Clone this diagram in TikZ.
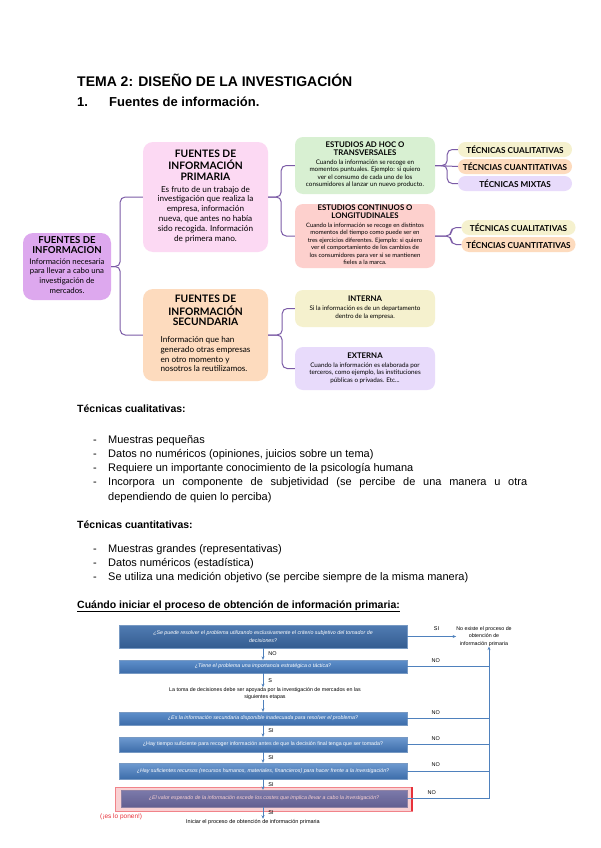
\documentclass[tikz,border=0pt]{standalone}
\usepackage{fontspec}
\setmainfont{Liberation Sans}
\newfontfamily\mapfont{Lato}
\usetikzlibrary{positioning,arrows.meta,calc}
\definecolor{mapline}{HTML}{7B5BA6}
\definecolor{rootfill}{HTML}{DDA8EE}
\definecolor{primfill}{HTML}{FCD9F3}
\definecolor{secfill}{HTML}{FDDBBE}
\definecolor{adhocfill}{HTML}{D8F0D2}
\definecolor{contfill}{HTML}{FDD0CD}
\definecolor{intfill}{HTML}{F5F1CE}
\definecolor{extfill}{HTML}{E8DBFB}
\definecolor{flowtop}{HTML}{5E8FCB}
\definecolor{flowbot}{HTML}{3D6DAA}
\definecolor{flowline}{HTML}{4F81BD}
\definecolor{hlred}{HTML}{E8313A}
\newcommand\cardhead{\fontsize{10.3}{9.4}\selectfont\bfseries}
\newcommand\cardbody{\fontsize{8.2}{9.8}\selectfont}
\newcommand\notehead{\fontsize{7.8}{7.7}\selectfont\bfseries}
\newcommand\notebody{\fontsize{6.3}{7.5}\selectfont}

\begin{document}
\begin{tikzpicture}[x=1pt, y=-1pt,
  every node/.style={inner sep=0pt},
  doctitle/.style={anchor=base west, font=\bfseries\fontsize{14}{16}\selectfont},
  sechead/.style={anchor=base west, font=\bfseries\fontsize{13}{15}\selectfont},
  subhead/.style={anchor=base west, font=\bfseries\fontsize{10.5}{13}\selectfont},
  listline/.style={anchor=base west, font=\fontsize{11}{14}\selectfont},
  card/.style={rounded corners=10pt, align=center, font=\mapfont\fontsize{9}{11}\selectfont},
  note/.style={rounded corners=8pt, align=center, minimum width=140pt, font=\mapfont\fontsize{6}{8}\selectfont},
  pill/.style={rounded corners=7.5pt, minimum width=114pt, minimum height=15pt,
    font=\mapfont\bfseries\fontsize{8.2}{8.5}\selectfont},
  link/.style={draw=mapline, line width=1pt, rounded corners=5pt},
  qbox/.style={top color=flowtop, bottom color=flowbot, draw=flowbot!70!white, line width=0.3pt,
    minimum width=288pt, align=center, text=white, font=\itshape\fontsize{5.3}{7.6}\selectfont},
  flow/.style={-{Stealth[length=3.5pt,width=3pt]}, draw=flowline, line width=0.8pt},
  rail/.style={draw=flowline, line width=0.8pt},
  yesno/.style={font=\fontsize{5.5}{6}\selectfont, inner sep=1pt},
]
  \useasboundingbox[fill=white] (0,0) rectangle (600,848);

  % Headings
  \node[doctitle] (title) at (77,87) {TEMA 2: DISEÑO DE LA INVESTIGACIÓN};
  \node[sechead] (secnum) at (77,107) {1.};
  \node[sechead] (sectxt) at (109,107) {Fuentes de información.};

  % Mind map: root and first level
  \node[card, fill=rootfill, minimum width=88pt, minimum height=67pt, font=\mapfont\fontsize{9}{10.5}\selectfont] (root) at (67,266.5)
    {{\fontsize{9.6}{9.6}\selectfont\bfseries\begin{tabular}[b]{@{}c@{}}FUENTES DE\\INFORMACION\end{tabular}}\\[0pt]
     {\fontsize{7.8}{9.6}\selectfont\begin{tabular}[t]{@{}c@{}}Información necesaria\\para llevar a cabo una\\investigación de\\mercados.\end{tabular}}};
  \node[card, fill=primfill, minimum width=125pt, minimum height=110pt] (prim) at (205.5,197)
    {{\cardhead\begin{tabular}[b]{@{}c@{}}FUENTES DE\\INFORMACIÓN\\PRIMARIA\end{tabular}}\\[1pt]
     {\cardbody\begin{tabular}[t]{@{}c@{}}Es fruto de un trabajo de\\investigación que realiza la\\empresa, información\\nueva, que antes no había\\sido recogida. Información\\de primera mano.\end{tabular}}};
  \node[card, fill=secfill, minimum width=125pt, minimum height=92pt] (sec) at (205.5,335)
    {{\cardhead\begin{tabular}[b]{@{}c@{}}FUENTES DE\\INFORMACIÓN\\SECUNDARIA\end{tabular}}\\[6pt]
     {\cardbody\begin{tabular}[t]{@{}l@{}}Información que han\\generado otras empresas\\en otro momento y\\nosotros la reutilizamos.\end{tabular}}};

  % Second level
  \node[note, fill=adhocfill, minimum height=57pt] (adhoc) at (365,165.5)
    {{\notehead\begin{tabular}[b]{@{}c@{}}ESTUDIOS AD HOC O\\TRANSVERSALES\end{tabular}}\\[1pt]
     {\notebody\begin{tabular}[t]{@{}c@{}}Cuando la información se recoge en\\momentos puntuales. Ejemplo: si quiero\\ver el consumo de cada uno de los\\consumidores al lanzar un nuevo producto.\end{tabular}}};
  \node[note, fill=contfill, minimum height=64pt] (cont) at (365,236)
    {{\notehead\begin{tabular}[b]{@{}c@{}}ESTUDIOS CONTINUOS O\\LONGITUDINALES\end{tabular}}\\[1pt]
     {\fontsize{6}{7.5}\selectfont\begin{tabular}[t]{@{}c@{}}Cuando la información se recoge en distintos\\momentos del tiempo como puede ser en\\tres ejercicios diferentes. Ejemplo: si quiero\\ver el comportamiento de los cambios de\\los consumidores para ver si se mantienen\\fieles a la marca.\end{tabular}}};
  \node[note, fill=intfill, minimum height=37pt] (intern) at (365,308.5)
    {{\notehead INTERNA}\\[1pt]
     {\notebody\begin{tabular}[t]{@{}c@{}}Si la información es de un departamento\\dentro de la empresa.\end{tabular}}};
  \node[note, fill=extfill, minimum height=43pt] (extern) at (365,368.5)
    {{\notehead EXTERNA}\\[1pt]
     {\notebody\begin{tabular}[t]{@{}c@{}}Cuando la información es elaborada por\\terceros, como ejemplo, las instituciones\\públicas o privadas. Etc...\end{tabular}}};

  % Third level: techniques
  \node[pill, fill=intfill] (cual1) at (515,149.5) {TÉCNICAS CUALITATIVAS};
  \node[pill, fill=secfill] (cuan1) at (515,166.5) {TÉCNCIAS CUANTITATIVAS};
  \node[pill, fill=extfill] (mix1)  at (515,183.5) {TÉCNICAS MIXTAS};
  \node[pill, fill=intfill] (cual2) at (518.5,227.5) {TÉCNICAS CUALITATIVAS};
  \node[pill, fill=secfill] (cuan2) at (518.5,244.5) {TÉCNCIAS CUANTITATIVAS};

  \draw[link] (root.east) -- ++(9,0) |- (prim.west);
  \draw[link] (root.east) -- ++(9,0) |- (sec.west);
  \draw[link] (prim.east) -- ++(13,0) |- (adhoc.west);
  \draw[link] (prim.east) -- ++(13,0) |- (cont.west);
  \draw[link] (sec.east) -- ++(14,0) |- (intern.west);
  \draw[link] (sec.east) -- ++(14,0) |- (extern.west);
  \draw[link] (adhoc.east) -- ++(12,0) |- (cual1.west);
  \draw[link] (adhoc.east) -- (cuan1.west);
  \draw[link] (adhoc.east) -- ++(12,0) |- (mix1.west);
  \draw[link] (cont.east) -- ++(16,0) |- (cual2.west);
  \draw[link] (cont.east) -- ++(16,0) |- (cuan2.west);

  % Techniques lists
  \node[subhead] (cualh) at (77,412) {Técnicas cualitativas:};
  \node[listline] (d1) at (93,443) {-};
  \node[listline] (c1) at (108,443) {Muestras pequeñas};
  \node[listline] (d2) at (93,457.3) {-};
  \node[listline] (c2) at (108,457.3) {Datos no numéricos (opiniones, juicios sobre un tema)};
  \node[listline] (d3) at (93,471.6) {-};
  \node[listline] (c3) at (108,471.6) {Requiere un importante conocimiento de la psicología humana};
  \node[listline] (d4) at (93,485.9) {-};
  \node[listline] (c4) at (108,485.9) {\makebox[419pt][s]{Incorpora un componente de subjetividad (se percibe de una manera u otra}};
  \node[listline] (c4b) at (108,500.2) {dependiendo de quien lo perciba)};

  \node[subhead] (cuanh) at (77,528) {Técnicas cuantitativas:};
  \node[listline] (d5) at (93,552) {-};
  \node[listline] (q1t) at (108,552) {Muestras grandes (representativas)};
  \node[listline] (d6) at (93,566.3) {-};
  \node[listline] (q2t) at (108,566.3) {Datos numéricos (estadística)};
  \node[listline] (d7) at (93,580.6) {-};
  \node[listline] (q3t) at (108,580.6) {Se utiliza una medición objetivo (se percibe siempre de la misma manera)};

  \node[subhead] (whenh) at (77,608) {\underline{Cuándo iniciar el proceso de obtención de información primaria:}};

  % Flowchart
  \node[qbox, minimum height=23pt, top color=flowbot!90!white, bottom color=flowbot!85!black] (q1) at (263,636.5)
    {¿Se puede resolver el problema utilizando exclusivamente el criterio subjetivo del tomador de\\decisiones?};
  \node[qbox, minimum height=13pt] (q2) at (263,666.5) {¿Tiene el problema una importancia estratégica o táctica?};
  \node[align=center, font=\fontsize{5.3}{7.3}\selectfont] (stage) at (265,693.5)
    {La toma de decisiones debe ser apoyada por la investigación de mercados en las\\siguientes etapas};
  \node[qbox, minimum height=13pt] (q4) at (263,718.5) {¿Es la información secundaria disponible inadecuada para resolver el problema?};
  \node[qbox, minimum height=15pt, top color=flowtop!90!white, font=\fontsize{5.3}{7.6}\selectfont] (q5) at (263,744.5)
    {¿Hay tiempo suficiente para recoger información antes de que la decisión final tenga que ser tomada?};
  \node[qbox, minimum height=16pt, top color=flowtop!90!white] (q6) at (263,771)
    {¿Hay suficientes recursos (recursos humanos, materiales, financieros) para hacer frente a la investigación?};
  \node[qbox, minimum height=17pt, minimum width=286pt] (q7) at (264,798.5)
    {¿El valor esperado de la información excede los costes que implica llevar a cabo la investigación?};
  \fill[hlred, fill opacity=0.22] (115,787) rectangle (412,811);
  \draw[hlred!60, line width=0.4pt] (115,787) rectangle (412,811);
  \draw[hlred, line width=1.2pt] (412,787) -- (412,811);
  \node[font=\fontsize{6.5}{7}\selectfont, text=hlred, anchor=base west] (note) at (100,818) {(¡es lo ponen!)};

  \node[font=\fontsize{5.5}{6}\selectfont, anchor=base west] (start) at (186,823)
    {Iniciar el proceso de obtención de información primaria};
  \node[align=center, font=\fontsize{5.3}{7.4}\selectfont] (nostart) at (484,636.5)
    {No existe el proceso de\\obtención de\\información primaria};

  \draw[flow] (q1.south) -- (q2.north) node[yesno, midway, right=4pt] {NO};
  \draw[flow] (q2.south) -- (stage.north -| q2.south) node[yesno, midway, right=4pt] {S};
  \draw[flow] (stage.south -| q4.north) -- (q4.north);
  \draw[flow] (q4.south) -- (q5.north) node[yesno, midway, right=4pt] {SI};
  \draw[flow] (q5.south) -- (q6.north) node[yesno, midway, right=4pt] {SI};
  \draw[flow] (q6.south) -- (q7.north -| q6.south) node[yesno, midway, right=4pt] {SI};
  \draw[flow] (q7.south -| q6.south) -- (start.north -| q6.south) node[yesno, midway, right=4pt] {SI};
  \draw[flow] (q1.east) -- (q1.east -| nostart.west) node[yesno, pos=0.6, above=5pt] {SI};

  % Rail of NO answers
  \coordinate (railbot) at (489,798.5);
  \draw[rail] (q2.east) -- (q2.east -| railbot) node[yesno, pos=0.35, above=3pt] {NO};
  \draw[rail] (q4.east) -- (q4.east -| railbot) node[yesno, pos=0.35, above=3pt] {NO};
  \draw[rail] (q5.east) -- (q5.east -| railbot) node[yesno, pos=0.35, above=3pt] {NO};
  \draw[rail] (q6.east) -- (q6.east -| railbot) node[yesno, pos=0.35, above=3pt] {NO};
  \draw[rail] (q7.east) -- (railbot) node[yesno, pos=0.3, above=3pt] {NO};
  \draw[flow] (railbot) -- (railbot |- nostart.south);
\end{tikzpicture}
\end{document}
